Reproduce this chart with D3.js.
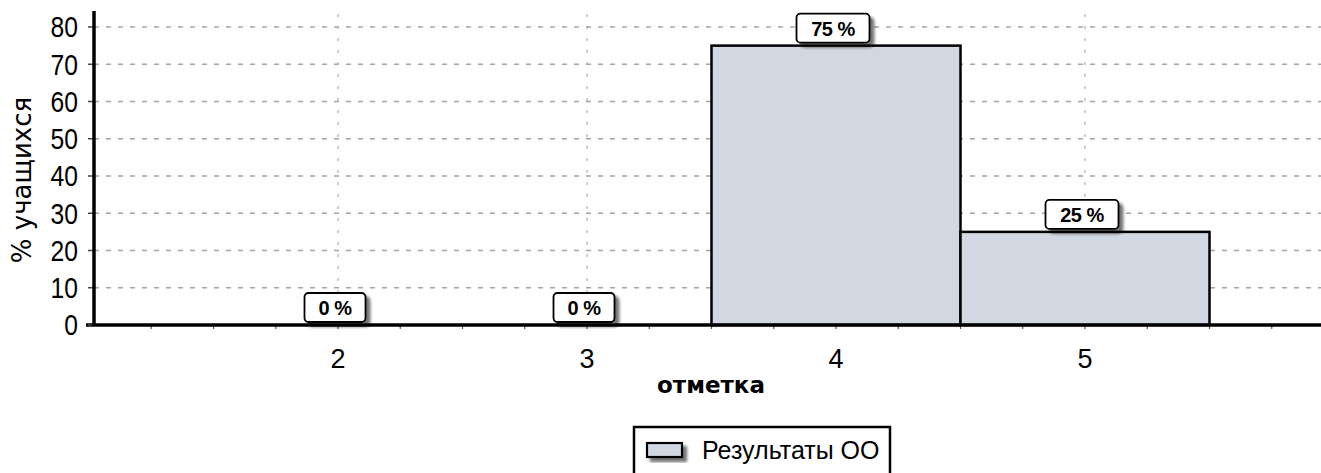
<!DOCTYPE html>
<html>
<head>
<meta charset="utf-8">
<script src="https://cdn.jsdelivr.net/npm/d3@7"></script>
<style>
  body { margin: 0; background: #fff; }
  text { font-family: "Liberation Sans", Arial, sans-serif; }
</style>
</head>
<body>
<script>
//chart data
var grades = [2, 3, 4, 5];
var percents = [0, 0, 75, 25];
var yTicks = [0, 10, 20, 30, 40, 50, 60, 70, 80];
var seriesName = "Результаты ОО";

var width = 1321, height = 473;
var axisX = 94;

var svg = d3.select("body").append("svg")
    .attr("width", width)
    .attr("height", height);

//scales: x is linear, one unit per grade, bars are one unit wide
var x = d3.scaleLinear().domain([1, 6]).range([89, 1334]);
var y = d3.scaleLinear().domain([0, 80]).range([325, 27]);

var defs = svg.append("defs");
var f = defs.append("filter").attr("id", "shadow")
    .attr("x", "-20%").attr("y", "-20%").attr("width", "150%").attr("height", "160%");
f.append("feGaussianBlur").attr("in", "SourceAlpha").attr("stdDeviation", 1.5);
f.append("feOffset").attr("dx", 4).attr("dy", 4).attr("result", "b");
f.append("feComponentTransfer").append("feFuncA").attr("type", "linear").attr("slope", 0.55);
var m = f.append("feMerge");
m.append("feMergeNode");
m.append("feMergeNode").attr("in", "SourceGraphic");

//horizontal dashed grid
svg.append("g").selectAll("line")
    .data(yTicks.slice(1))
    .enter().append("line")
    .attr("x1", axisX).attr("x2", width)
    .attr("y1", function(d){ return y(d); })
    .attr("y2", function(d){ return y(d); })
    .attr("stroke", "#a4a4a4")
    .attr("stroke-width", 1.3)
    .attr("stroke-dasharray", "5,7");

//vertical dotted grid at grades
svg.append("g").selectAll("line")
    .data(grades)
    .enter().append("line")
    .attr("x1", function(d){ return x(d); })
    .attr("x2", function(d){ return x(d); })
    .attr("y1", 14).attr("y2", y(0))
    .attr("stroke", "#b0b0b0")
    .attr("stroke-width", 1.2)
    .attr("stroke-dasharray", "3,9");

//bars
svg.append("g").selectAll("rect")
    .data(grades.filter(function(d, i){ return percents[i] > 0; }))
    .enter().append("rect")
    .attr("x", function(d){ return x(d - 0.5); })
    .attr("width", x(1.5) - x(0.5))
    .attr("y", function(d){ return y(percents[grades.indexOf(d)]); })
    .attr("height", function(d){ return y(0) - y(percents[grades.indexOf(d)]); })
    .attr("fill", "#d2d8e1")
    .attr("stroke", "#000")
    .attr("stroke-width", 2.5);

//x axis with quarter ticks
var xTicks = d3.range(1.25, 6.01, 0.25);
svg.append("g").selectAll("line")
    .data(xTicks)
    .enter().append("line")
    .attr("x1", function(d){ return x(d); })
    .attr("x2", function(d){ return x(d); })
    .attr("y1", y(0)).attr("y2", y(0) + 4)
    .attr("stroke", "#555").attr("stroke-width", 1.2);

svg.append("line")
    .attr("x1", axisX - 8).attr("x2", width)
    .attr("y1", y(0)).attr("y2", y(0))
    .attr("stroke", "#000").attr("stroke-width", 3.5);

//y axis
svg.append("g").selectAll("line")
    .data(yTicks)
    .enter().append("line")
    .attr("x1", axisX - 6).attr("x2", axisX)
    .attr("y1", function(d){ return y(d); })
    .attr("y2", function(d){ return y(d); })
    .attr("stroke", "#444").attr("stroke-width", 1.5);

svg.append("line")
    .attr("x1", axisX).attr("x2", axisX)
    .attr("y1", 11).attr("y2", y(0) + 1)
    .attr("stroke", "#000").attr("stroke-width", 3.5);

svg.append("g").selectAll("text")
    .data(yTicks)
    .enter().append("text")
    .attr("x", 78)
    .attr("y", function(d){ return y(d); })
    .attr("dy", "0.36em")
    .attr("text-anchor", "end")
    .attr("transform", function(d){ return "translate(78," + y(d) + ") scale(0.85,1) translate(-78," + (-y(d)) + ")"; })
    .style("font-size", "29px")
    .text(function(d){ return d; });

svg.append("g").selectAll("text")
    .data(grades)
    .enter().append("text")
    .attr("x", function(d){ return x(d); })
    .attr("y", 368)
    .attr("text-anchor", "middle")
    .style("font-size", "27px")
    .text(function(d){ return d; });

svg.append("text")
    .attr("transform", "translate(31,180) rotate(-90)")
    .attr("text-anchor", "middle")
    .style("font-family", "'DejaVu Sans', sans-serif")
    .style("font-size", "26px")
    .text("% учащихся");

svg.append("text")
    .attr("x", 711).attr("y", 393)
    .attr("text-anchor", "middle")
    .style("font-family", "'DejaVu Sans', sans-serif")
    .style("font-weight", "bold")
    .style("font-size", "23px")
    .text("отметка");

//value labels
var labels = svg.append("g").selectAll("g")
    .data(grades)
    .enter().append("g")
    .attr("transform", function(d, i){ return "translate(" + (x(d) - 3) + "," + (y(percents[i]) - 2) + ")"; });

labels.each(function(d, i){
    var g = d3.select(this);
    var t = percents[i] + " %";
    var w = percents[i] >= 10 ? 73 : 61;
    g.append("rect")
        .attr("x", -w / 2).attr("y", -30)
        .attr("width", w).attr("height", 29)
        .attr("rx", 4)
        .attr("fill", "#fff")
        .attr("stroke", "#000")
        .attr("stroke-width", 1.8)
        .attr("filter", "url(#shadow)");
    g.append("text")
        .attr("x", 0).attr("y", -8)
        .attr("text-anchor", "middle")
        .style("font-weight", "bold")
        .style("font-size", "20px")
        .style("letter-spacing", "-0.5px")
        .text(t);
});

//legend
var lg = svg.append("g").attr("transform", "translate(634,427)");
lg.append("rect")
    .attr("x", 0).attr("y", 0)
    .attr("width", 256).attr("height", 60)
    .attr("fill", "#fff")
    .attr("stroke", "#000")
    .attr("stroke-width", 2.5);
lg.append("rect")
    .attr("x", 13).attr("y", 16)
    .attr("width", 35).attr("height", 14)
    .attr("fill", "#d2d8e1")
    .attr("stroke", "#000")
    .attr("stroke-width", 2.2)
    .attr("filter", "url(#shadow)");
lg.append("text")
    .attr("x", 68).attr("y", 32)
    .style("font-size", "25px")
    .text(seriesName);
</script>
</body>
</html>
